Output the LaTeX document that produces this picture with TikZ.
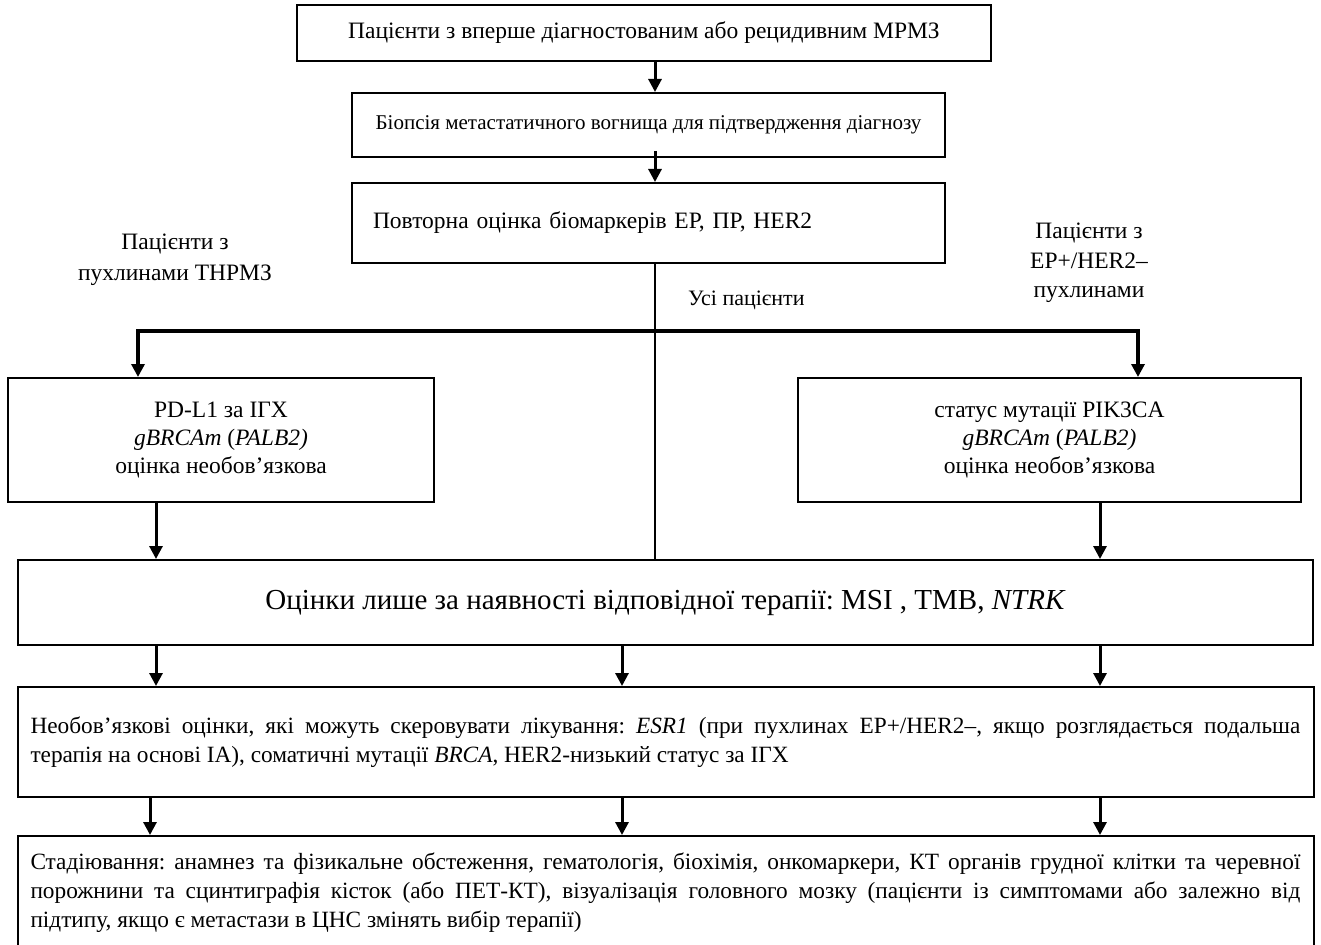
\documentclass[tikz,border=0pt]{standalone}
\usepackage{fontspec}
\setmainfont{Liberation Serif}
\usetikzlibrary{arrows.meta}
\frenchspacing
\begin{document}
\begin{tikzpicture}[x=1pt,y=-1pt,
  box/.style={draw, line width=2pt, inner sep=0pt, align=center},
  arr/.style={line width=3pt, line join=miter, -{Triangle[length=13pt,width=13pt]}},
  trunk/.style={line width=2.6pt},
  fmain/.style={font=\fontsize{23.5}{28}\selectfont},
  fpara/.style={font=\fontsize{23.3}{29}\selectfont},
  fsmall/.style={font=\fontsize{21}{25}\selectfont},
  fbig/.style={font=\fontsize{29}{34}\selectfont},
  lbl/.style={fmain, align=center, inner sep=0pt},
  para/.style={box, fpara, text width=1270pt, align=justify, inner xsep=13pt}]
\useasboundingbox (0,0) rectangle (1321,944);
\clip (0,0) rectangle (1321,944);

% boxes
\node[box, fmain, minimum width=694pt, minimum height=56pt] (b1) at (644,33)
  {Пацієнти з вперше діагностованим або рецидивним МРМЗ};
\node[box, fsmall, minimum width=593pt, minimum height=64pt] (b2) at (648.5,125)
  {Біопсія метастатичного вогнища для підтвердження діагнозу};
\node[box, fmain, text width=551pt, align=left, inner xsep=21pt, minimum height=80pt] (b3) at (648.5,223)
  {Повторна оцінка біомаркерів ЕР, ПР, HER2};

\node[lbl, font=\fontsize{23.5}{31}\selectfont] (lblL) at (175,260) {Пацієнти з\\пухлинами ТНРМЗ};
\node[lbl, font=\fontsize{23.5}{29.5}\selectfont] (lblR) at (1089,263) {Пацієнти з\\ЕР+/HER2–\\пухлинами};
\node[lbl, font=\fontsize{22}{26}\selectfont, anchor=west] (lblAll) at (688,300) {Усі пацієнти};

\node[box, fmain, minimum width=426pt, minimum height=124pt] (bL) at (221,440)
  {PD-L1 за ІГХ\\\textit{gBRCAm} (\textit{PALB2)}\\оцінка необов’язкова};
\node[box, fmain, minimum width=503pt, minimum height=124pt] (bR) at (1049.5,440)
  {статус мутації PIK3CA\\\textit{gBRCAm} (\textit{PALB2)}\\оцінка необов’язкова};

\node[box, fbig, minimum width=1295pt, minimum height=85pt] (b4) at (665.5,602.5)
  {Оцінки лише за наявності відповідної терапії: MSI , TMB, \textit{NTRK}};

\node[para, minimum height=110pt] (b5) at (665.5,742)
  {Необов’язкові оцінки, які можуть скеровувати лікування: \textit{ESR1} (при пухлинах ЕР+/HER2–, якщо розглядається подальша\linebreak
   терапія на основі ІА), соматичні мутації \textit{BRCA}, HER2-низький статус за ІГХ};

\node[para, minimum height=114pt] (b6) at (665.5,893)
  {Стадіювання: анамнез та фізикальне обстеження, гематологія, біохімія, онкомаркери, КТ органів грудної клітки та черевної\linebreak
   порожнини та сцинтиграфія кісток (або ПЕТ-КТ), візуалізація головного мозку (пацієнти із симптомами або залежно від\linebreak
   підтипу, якщо є метастази в ЦНС змінять вибір терапії)};

% helper coordinates
\coordinate (cx) at (655,0);
\coordinate (jl) at (138,331);
\coordinate (jr) at (1138,331);
\coordinate (xa) at (156,0);
\coordinate (xb) at (622,0);
\coordinate (xc) at (1100,0);
\coordinate (xd) at (150,0);

% connectors
\draw[arr] (b1.south -| cx) -- (b2.north -| cx);
\draw[arr] ([yshift=7pt]b2.south -| cx) -- (b3.north -| cx);
\draw[trunk] (b3.south -| cx) -- (b4.north -| cx);
\draw[arr, line width=3.5pt] (jr) -- (jl) -- (bL.north -| jl);
\draw[arr, line width=3.5pt] (jl) -- (jr) -- (bR.north -| jr);
\draw[arr] (bL.south -| xa) -- (b4.north -| xa);
\draw[arr] (bR.south -| xc) -- (b4.north -| xc);
\draw[arr] (b4.south -| xa) -- (b5.north -| xa);
\draw[arr] (b4.south -| xb) -- (b5.north -| xb);
\draw[arr] (b4.south -| xc) -- (b5.north -| xc);
\draw[arr] (b5.south -| xd) -- (b6.north -| xd);
\draw[arr] (b5.south -| xb) -- (b6.north -| xb);
\draw[arr] (b5.south -| xc) -- (b6.north -| xc);
\end{tikzpicture}
\end{document}
